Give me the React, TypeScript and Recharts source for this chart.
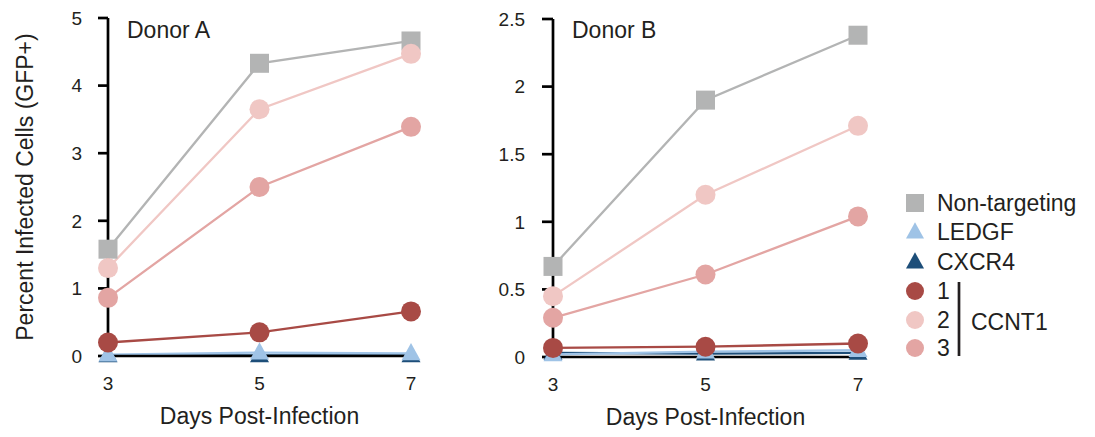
import React from "react";
import { LineChart, Line, XAxis, YAxis, Legend } from "recharts";

// days post-infection
const days = [3, 5, 7];

// Donor A values (% GFP+)
const donorANonTargeting = [1.58, 4.33, 4.66];
const donorALedgf = [0.02, 0.05, 0.04];
const donorACxcr4 = [0.01, 0.01, 0.01];
const donorACcnt1_1 = [0.2, 0.35, 0.66];
const donorACcnt1_2 = [1.3, 3.65, 4.47];
const donorACcnt1_3 = [0.86, 2.5, 3.39];

// Donor B values (% GFP+)
const donorBNonTargeting = [0.67, 1.9, 2.38];
const donorBLedgf = [0.02, 0.04, 0.05];
const donorBCxcr4 = [0.03, 0.025, 0.03];
const donorBCcnt1_1 = [0.067, 0.076, 0.1];
const donorBCcnt1_2 = [0.45, 1.2, 1.71];
const donorBCcnt1_3 = [0.29, 0.61, 1.04];

const yTicksA = [0, 1, 2, 3, 4, 5];
const yTicksB = [0, 0.5, 1, 1.5, 2, 2.5];

const FONT = "'Liberation Sans', Arial, Helvetica, sans-serif";
const TEXT = "#231f20";

type Shape = "square" | "triangle" | "circle";

const series: { key: string; name: string; color: string; shape: Shape }[] = [
  { key: "nt", name: "Non-targeting", color: "#b3b4b4", shape: "square" },
  { key: "cxcr4", name: "CXCR4", color: "#1d4e79", shape: "triangle" },
  { key: "ledgf", name: "LEDGF", color: "#9fc3e6", shape: "triangle" },
  { key: "c3", name: "3", color: "#e3a5a3", shape: "circle" },
  { key: "c2", name: "2", color: "#f0c7c4", shape: "circle" },
  { key: "c1", name: "1", color: "#a84a45", shape: "circle" },
];

const legendOrder = ["nt", "ledgf", "cxcr4", "c1", "c2", "c3"];

const buildRows = (
  nt: number[],
  ledgf: number[],
  cxcr4: number[],
  c1: number[],
  c2: number[],
  c3: number[]
) =>
  days.map((day, i) => ({
    day,
    nt: nt[i],
    ledgf: ledgf[i],
    cxcr4: cxcr4[i],
    c1: c1[i],
    c2: c2[i],
    c3: c3[i],
  }));

const dataA = buildRows(
  donorANonTargeting,
  donorALedgf,
  donorACxcr4,
  donorACcnt1_1,
  donorACcnt1_2,
  donorACcnt1_3
);
const dataB = buildRows(
  donorBNonTargeting,
  donorBLedgf,
  donorBCxcr4,
  donorBCcnt1_1,
  donorBCcnt1_2,
  donorBCcnt1_3
);

const Marker = ({
  shape,
  color,
  cx,
  cy,
  size,
}: {
  shape: Shape;
  color: string;
  cx: number;
  cy: number;
  size: number;
}) => {
  if (shape === "square") {
    return (
      <rect x={cx - size / 2} y={cy - size / 2} width={size} height={size} fill={color} />
    );
  }
  if (shape === "triangle") {
    const h = size * 0.9;
    return (
      <polygon
        points={`${cx},${cy - h * 0.6} ${cx - size / 2},${cy + h * 0.4} ${cx + size / 2},${cy + h * 0.4}`}
        fill={color}
      />
    );
  }
  return <circle cx={cx} cy={cy} r={size / 2} fill={color} />;
};

const dotFor = (shape: Shape, color: string) => (p: any) => {
  if (p.cx == null || p.cy == null) return <g key={p.index} />;
  return (
    <Marker
      key={p.index}
      shape={shape}
      color={color}
      cx={p.cx}
      cy={p.cy}
      size={shape === "circle" ? 20 : 19}
    />
  );
};

const renderLines = () =>
  series.map((s) => (
    <Line
      key={s.key}
      dataKey={s.key}
      name={s.name}
      stroke={s.color}
      strokeWidth={2.3}
      dot={dotFor(s.shape, s.color)}
      activeDot={false}
      isAnimationActive={false}
    />
  ));

const LegendBox = () => {
  const rowY = [18, 47, 77, 106, 135, 163];
  return (
    <svg width={195} height={185} style={{ overflow: "visible" }}>
      {legendOrder.map((k, i) => {
        const s = series.find((x) => x.key === k)!;
        return (
          <g key={k}>
            <Marker shape={s.shape} color={s.color} cx={15} cy={rowY[i]} size={18} />
            <text
              x={37}
              y={rowY[i] + 8}
              fontFamily={FONT}
              fontSize={23}
              fill={TEXT}
            >
              {s.name}
            </text>
          </g>
        );
      })}
      <line x1={59} y1={97} x2={59} y2={171} stroke={TEXT} strokeWidth={2.7} />
      <text x={71} y={145} fontFamily={FONT} fontSize={23} fill={TEXT}>
        CCNT1
      </text>
    </svg>
  );
};

const axisTick = { fontFamily: FONT, fontSize: 19, fill: TEXT };
const axisStroke = { stroke: "#000", strokeWidth: 2.7 };

export default function App() {
  return (
    <div
      style={{
        position: "absolute",
        left: 0,
        top: 0,
        width: 1095,
        height: 437,
        background: "#fff",
      }}
    >
      <div style={{ position: "absolute", left: 0, top: 0 }}>
        <LineChart
          width={460}
          height={437}
          data={dataA}
          margin={{ top: 18, right: 49, left: 8, bottom: 0 }}
        >
          <XAxis
            dataKey="day"
            type="number"
            domain={[3, 7]}
            ticks={days}
            height={81}
            tickLine={false}
            tickSize={0}
            tickMargin={21}
            axisLine={axisStroke}
            tick={axisTick}
            label={{
              value: "Days Post-Infection",
              position: "insideBottom",
              offset: 13,
              fontFamily: FONT,
              fontSize: 23,
              fill: TEXT,
            }}
          />
          <YAxis
            type="number"
            domain={[0, 5]}
            ticks={yTicksA}
            width={100}
            tickSize={10}
            tickMargin={16}
            tickLine={axisStroke}
            axisLine={axisStroke}
            tick={axisTick}
          />
          {renderLines()}
          <text x={127} y={38} fontFamily={FONT} fontSize={23} fill={TEXT}>
            Donor A
          </text>
          <text
            x={25}
            y={187}
            transform="rotate(-90 25 187)"
            textAnchor="middle"
            dominantBaseline="central"
            fontFamily={FONT}
            fontSize={23}
            fill={TEXT}
          >
            Percent Infected Cells (GFP+)
          </text>
        </LineChart>
      </div>
      <div style={{ position: "absolute", left: 460, top: 0 }}>
        <LineChart
          width={635}
          height={437}
          data={dataB}
          margin={{ top: 19, right: 237, left: 8, bottom: 0 }}
        >
          <XAxis
            dataKey="day"
            type="number"
            domain={[3, 7]}
            ticks={days}
            height={80}
            tickLine={false}
            tickSize={0}
            tickMargin={21}
            axisLine={axisStroke}
            tick={axisTick}
            label={{
              value: "Days Post-Infection",
              position: "insideBottom",
              offset: 12,
              fontFamily: FONT,
              fontSize: 23,
              fill: TEXT,
            }}
          />
          <YAxis
            type="number"
            domain={[0, 2.5]}
            ticks={yTicksB}
            width={85}
            tickSize={11}
            tickMargin={17}
            tickLine={axisStroke}
            axisLine={axisStroke}
            tick={axisTick}
          />
          {renderLines()}
          <text x={112} y={38} fontFamily={FONT} fontSize={23} fill={TEXT}>
            Donor B
          </text>
          <Legend
            layout="horizontal"
            verticalAlign="middle"
            align="center"
            content={() => <LegendBox />}
            wrapperStyle={{ left: 440, top: 185, width: 195, height: 185 }}
          />
        </LineChart>
      </div>
    </div>
  );
}
